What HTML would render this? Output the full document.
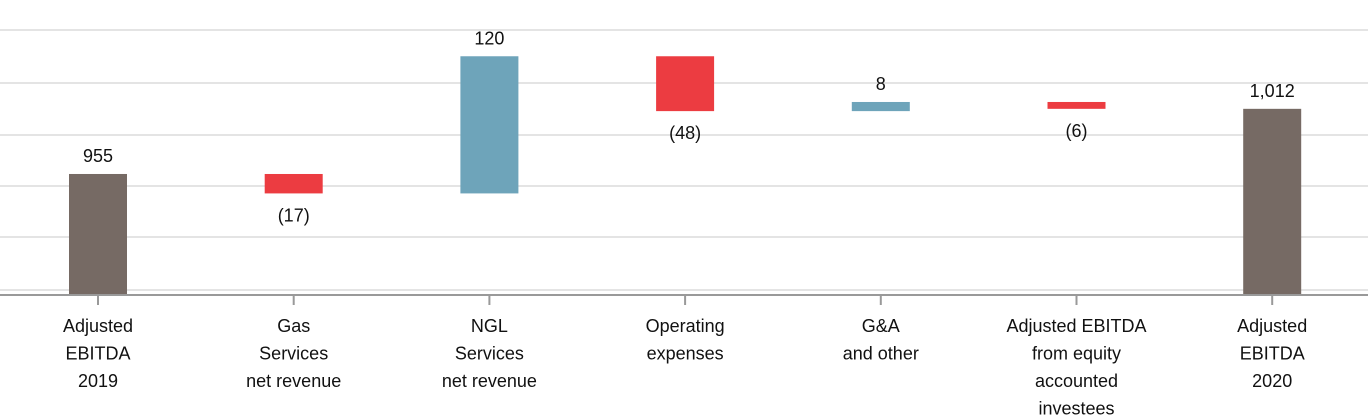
<!DOCTYPE html>
<html><head><meta charset="utf-8"><style>
body{margin:0;background:#fff;}
svg{display:block;font-family:"Liberation Sans","DejaVu Sans",sans-serif;}
</style></head><body>
<svg id="c" width="1368" height="420"></svg>
<script>
const categories=[["Adjusted","EBITDA","2019"],["Gas","Services","net revenue"],["NGL","Services","net revenue"],["Operating","expenses"],["G&A","and other"],["Adjusted EBITDA","from equity","accounted","investees"],["Adjusted","EBITDA","2020"]];
const values=[955,-17,120,-48,8,-6,1012];
const kinds=["total","delta","delta","delta","delta","delta","total"];
const valueLabels=["955","(17)","120","(48)","8","(6)","1,012"];
const NS="http://www.w3.org/2000/svg";
const svg=document.getElementById('c');
const y0=850, base=294, k=1.143;
function y(v){return base-(v-y0)*k;}
function x(i){return 98+i*195.7;}
function mk(t,a){const e=document.createElementNS(NS,t);for(const p in a)e.setAttribute(p,a[p]);svg.appendChild(e);return e;}
[30,83,135,186,237,290].forEach(g=>{const l=mk('line',{x1:0,x2:1368,y1:g,y2:g,stroke:'#e4e4e4','stroke-width':2});

});
const ax=mk('line',{x1:0,x2:1368,y1:295,y2:295,stroke:'#999','stroke-width':2});


let run=0;
values.forEach((v,i)=>{
  let top,bot,color;
  if(kinds[i]==="total"){run=v;top=y(v);bot=base;color='#766a64';}
  else{const a=run,b=run+v;run=b;top=y(Math.max(a,b));bot=y(Math.min(a,b));color=v>=0?'#6ea4ba':'#ec3c41';}
  const r=mk('rect',{x:x(i)-29,y:top,width:58,height:bot-top,fill:color});
  
  
  const ly=(v<0&&kinds[i]==="delta")?bot+28:top-12;
  const t=mk('text',{x:x(i),y:ly,'text-anchor':'middle','font-size':18,fill:'#111'});
  t.textContent=valueLabels[i];
  
  
  const tk=mk('line',{x1:x(i),x2:x(i),y1:295,y2:305,stroke:'#999','stroke-width':2});
  
  
  categories[i].forEach((s,j)=>{
    const c=mk('text',{x:x(i),y:332+j*27.5,'text-anchor':'middle','font-size':18,fill:'#111'});
    c.textContent=s;
    
    
  });
});
</script>
</body></html>
